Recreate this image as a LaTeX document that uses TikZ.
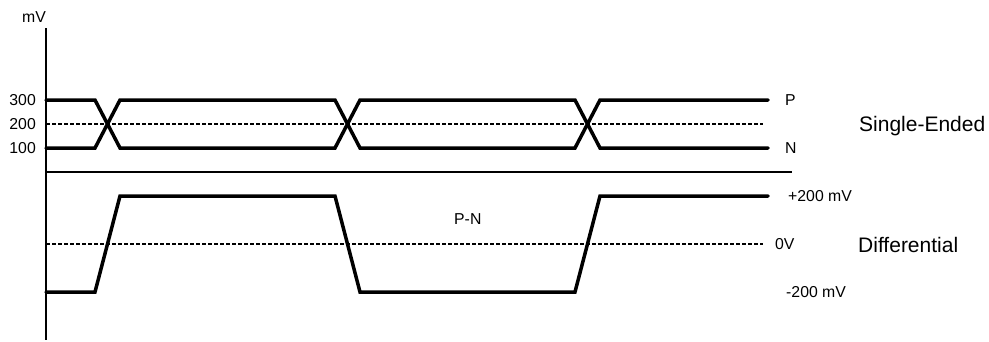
\documentclass[tikz,border=0pt]{standalone}
\usepackage{fontspec}
\setmainfont{Liberation Sans}
\tikzset{%
  signal/.style = {line width=3.5pt, line cap=round, line join=miter},%
  level/.style  = {line width=1.2pt, dash pattern=on 3.5pt off 2.5pt},%
  axis/.style   = {line width=2pt},%
  split/.style  = {line width=1.5pt},%
  tick/.style   = {anchor=base east, font=\fontsize{15.8}{18}\selectfont},%
  lbl/.style    = {anchor=base west, font=\fontsize{15.8}{18}\selectfont},%
  title/.style  = {anchor=base west, font=\fontsize{21}{24}\selectfont}%
}
\begin{document}
\begin{tikzpicture}[x=1pt,y=-1pt,
	every node/.style = {inner sep=0pt}]
		\useasboundingbox (0,0) rectangle (989,341);
		\draw[axis] (46,28) -- (46,340);
		\draw[split] (46,172) -- (792,172);
		\draw[level] (46,124) -- (763,124);
		\draw[level] (46,244) -- (763,244);
		\draw[signal] (46,100) -- (95,100) -- (120,148) -- (335,148)
			-- (360,100) -- (575,100) -- (600,148) -- (768,148);
		\draw[signal] (46,148) -- (95,148) -- (120,100) -- (335,100)
			-- (360,148) -- (575,148) -- (600,100) -- (768,100);
		\draw[signal] (46,292) -- (95,292) -- (120,196) -- (335,196)
			-- (360,292) -- (575,292) -- (600,196) -- (768,196);
		\node[lbl, anchor=base] (unit) at (34,22) {mV};
		\node[tick] (t300) at (36,105.5) {300};
		\node[tick] (t200) at (36,129.5) {200};
		\node[tick] (t100) at (36,153.5) {100};
		\node[lbl] (p) at (785,105.5) {P};
		\node[lbl] (n) at (785,153.5) {N};
		\node[title] (single) at (859,131) {Single-Ended};
		\node[lbl] (pn) at (454,224.5) {P-N};
		\node[lbl] (high) at (788,201.5) {+200 mV};
		\node[lbl] (zero) at (775,249.5) {0V};
		\node[lbl] (low) at (786,297.5) {-200 mV};
		\node[title] (diff) at (858,252) {Differential};
	\end{tikzpicture}
\end{document}
